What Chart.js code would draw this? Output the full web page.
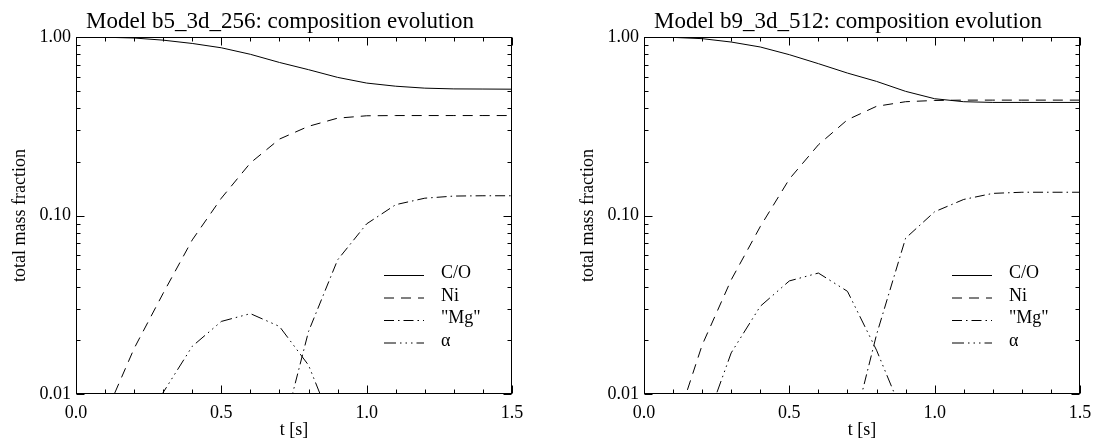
<!DOCTYPE html>
<html>
<head>
<meta charset="utf-8">
<script src="https://cdn.jsdelivr.net/npm/chart.js@4.4.1/dist/chart.umd.min.js"></script>
<style>
  html, body { margin: 0; padding: 0; background: #fff; width: 1095px; height: 443px; overflow: hidden; }
  .panel { position: absolute; top: 0; }
</style>
</head>
<body>
<div class="panel" style="left:0px"><canvas id="chartB5" width="560" height="443"></canvas></div>
<div class="panel" style="left:568px"><canvas id="chartB9" width="560" height="443"></canvas></div>
<script>
// time samples [s]
const times = [0.0, 0.1, 0.2, 0.3, 0.4, 0.5, 0.6, 0.7, 0.8, 0.9, 1.0, 1.1, 1.2, 1.3, 1.4, 1.5];

// Model b5_3d_256
const b5CO    = [1.0, 0.997, 0.987, 0.96, 0.92, 0.87, 0.80, 0.72, 0.656, 0.594, 0.552, 0.53, 0.517, 0.512, 0.511, 0.51];
const b5Ni    = [0.003, 0.0076, 0.018, 0.0367, 0.073, 0.125, 0.197, 0.268, 0.316, 0.351, 0.362, 0.363, 0.363, 0.363, 0.363, 0.363];
const b5Mg    = [0.0005, 0.0005, 0.0006, 0.0008, 0.001, 0.0015, 0.0025, 0.0052, 0.0224, 0.0564, 0.0898, 0.115, 0.125, 0.1285, 0.129, 0.129];
const b5Alpha = [0.001, 0.002, 0.0055, 0.0102, 0.0185, 0.0255, 0.0282, 0.0239, 0.0145, 0.0057, 0.003, 0.002, 0.0015, 0.0012, 0.001, 0.001];

// Model b9_3d_512
const b9CO    = [1.0, 0.995, 0.979, 0.937, 0.879, 0.796, 0.709, 0.628, 0.564, 0.496, 0.451, 0.434, 0.43, 0.43, 0.43, 0.43];
const b9Ni    = [0.002, 0.006, 0.0188, 0.0436, 0.0867, 0.160, 0.249, 0.344, 0.409, 0.434, 0.441, 0.443, 0.443, 0.443, 0.443, 0.443];
const b9Mg    = [0.0005, 0.0005, 0.0006, 0.0008, 0.001, 0.0015, 0.0025, 0.0048, 0.0215, 0.0746, 0.105, 0.123, 0.133, 0.135, 0.135, 0.135];
const b9Alpha = [0.001, 0.002, 0.006, 0.017, 0.031, 0.043, 0.0476, 0.0376, 0.0176, 0.0071, 0.004, 0.003, 0.002, 0.0015, 0.0012, 0.001];

const seriesNames = ['C/O', 'Ni', '"Mg"', 'α'];
const xTicks = [0.0, 0.5, 1.0, 1.5];
const yTicks = [0.01, 0.1, 1.0];

// IDL style line patterns: solid, dashed, dash-dot, dash-dot-dot-dot
const dashes = [[], [10, 7], [10, 4, 1.5, 4], [12, 4, 1.5, 4, 1.5, 4, 1.5, 4]];

const serif = '"Liberation Serif", "Times New Roman", serif';
Chart.defaults.font.family = serif;
Chart.defaults.color = '#000';

// title, frame with inward ticks on all four sides, legend inside the plot
const idlFrame = {
  id: 'idlFrame',
  afterDatasetsDraw(chart, args, opts) {
    const { ctx, chartArea: a, scales: { x, y } } = chart;
    ctx.save();

    // title sits a bit left of the plot centre, like the IDL original
    ctx.font = '23px ' + serif;
    ctx.fillStyle = '#000';
    ctx.textAlign = 'center';
    ctx.textBaseline = 'alphabetic';
    ctx.fillText(opts.title, (a.left + a.right) / 2 - 14, 28);

    ctx.strokeStyle = '#000';
    ctx.lineWidth = 1;
    ctx.setLineDash([]);
    const L = a.left + 0.5, R = a.right - 0.5, T = a.top + 0.5, B = a.bottom - 0.5;
    ctx.strokeRect(L, T, R - L, B - T);

    ctx.beginPath();
    for (let i = 0; i <= 15; i++) {
      const px = Math.round(x.getPixelForValue(i / 10)) + 0.5;
      const len = i % 5 === 0 ? 8 : 4;
      ctx.moveTo(px, B); ctx.lineTo(px, B - len);
      ctx.moveTo(px, T); ctx.lineTo(px, T + len);
    }
    for (let dec = -2; dec <= 0; dec++) {
      for (let m = 1; m <= 9; m++) {
        if (dec === 0 && m > 1) break;
        const py = Math.round(y.getPixelForValue(m * Math.pow(10, dec))) + 0.5;
        const len = m === 1 ? 8 : 4;
        ctx.moveTo(L, py); ctx.lineTo(L + len, py);
        ctx.moveTo(R, py); ctx.lineTo(R - len, py);
      }
    }
    ctx.stroke();

    // legend
    ctx.font = '18px ' + serif;
    ctx.textAlign = 'left';
    chart.data.datasets.forEach((ds, i) => {
      const base = a.top + 241 + i * 22.5;
      ctx.beginPath();
      ctx.setLineDash(ds.borderDash || []);
      ctx.moveTo(a.left + 308, base - 2.5);
      ctx.lineTo(a.left + 348, base - 2.5);
      ctx.stroke();
      ctx.fillText(ds.label, a.left + 365, base);
    });
    ctx.restore();
  }
};

function makeChart(id, title, series) {
  return new Chart(document.getElementById(id), {
    type: 'line',
    data: {
      datasets: series.map((vals, i) => ({
        label: seriesNames[i],
        data: times.map((t, k) => ({ x: t, y: vals[k] })),
        borderColor: '#000',
        borderWidth: 1,
        borderDash: dashes[i],
        pointRadius: 0,
        tension: 0,
        fill: false
      }))
    },
    options: {
      responsive: false,
      animation: false,
      layout: { padding: { left: 0, right: 48, top: 37, bottom: 0 } },
      plugins: {
        legend: { display: false },
        tooltip: { enabled: false },
        title: { display: false },
        idlFrame: { title: title }
      },
      scales: {
        x: {
          type: 'linear',
          min: 0,
          max: 1.5,
          afterBuildTicks: s => { s.ticks = xTicks.map(v => ({ value: v })); },
          afterFit: s => { s.height = 49; },
          ticks: { callback: v => v.toFixed(1), font: { size: 18 }, padding: 8, maxRotation: 0 },
          grid: { display: false, drawTicks: false },
          border: { display: false },
          title: { display: true, text: 't [s]', font: { size: 18 }, padding: { top: 0, bottom: 2 } }
        },
        y: {
          type: 'logarithmic',
          min: 0.01,
          max: 1.0,
          afterBuildTicks: s => { s.ticks = yTicks.map(v => ({ value: v })); },
          afterFit: s => { s.width = 76; },
          ticks: { callback: v => Number(v).toFixed(2), font: { size: 18 }, padding: 5 },
          grid: { display: false, drawTicks: false },
          border: { display: false },
          title: { display: true, text: 'total mass fraction', font: { size: 18 }, padding: { top: 9, bottom: 0 } }
        }
      }
    },
    plugins: [idlFrame]
  });
}

makeChart('chartB5', 'Model b5_3d_256: composition evolution', [b5CO, b5Ni, b5Mg, b5Alpha]);
makeChart('chartB9', 'Model b9_3d_512: composition evolution', [b9CO, b9Ni, b9Mg, b9Alpha]);
</script>
</body>
</html>
